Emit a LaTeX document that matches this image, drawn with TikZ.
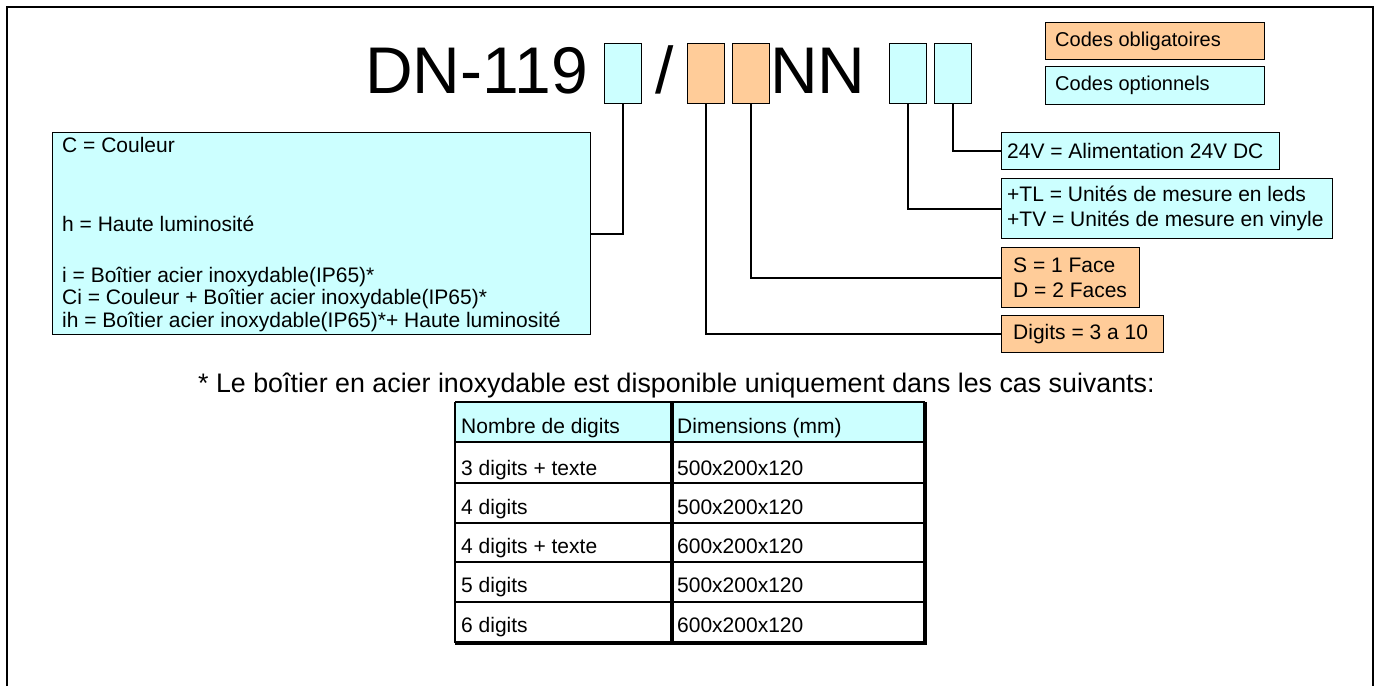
\documentclass[tikz,border=0pt]{standalone}
\usepackage{fontspec}
\setmainfont{Liberation Sans}
\definecolor{optc}{RGB}{204,255,255}
\definecolor{oblc}{RGB}{255,204,153}
\begin{document}
\begin{tikzpicture}[x=1pt,y=-1pt,
  box/.style={draw=black,line width=1.4pt,inner sep=0pt,rectangle},
  optbox/.style={box,fill=optc},
  oblbox/.style={box,fill=oblc},
  codebox/.style={minimum width=37pt,minimum height=60pt,anchor=north west},
  conn/.style={line width=2pt},
  txt/.style={inner sep=0pt,font=\fontsize{21}{25}\selectfont},
  titletxt/.style={inner sep=0pt,font=\fontsize{66}{70}\selectfont},
  tabtxt/.style={inner sep=0pt,anchor=base west,font=\fontsize{21}{25}\selectfont},
  tabline/.style={line width=2.5pt},
  tabouter/.style={line width=3.5pt}
]
\useasboundingbox (0,0) rectangle (1379,686);
% outer frame
\draw[line width=2pt] (7,686) -- (7,7) -- (1373,7) -- (1373,686);

% title
\node[titletxt,anchor=base east] (dn) at (588,93) {DN-119};
\node[titletxt,anchor=base west] (slash) at (655,93) {/};
\node[titletxt,anchor=base west] (nn) at (770,93) {NN};

% code boxes
\node[optbox,codebox] (c1) at (604,43) {};
\node[oblbox,codebox] (o1) at (687,43) {};
\node[oblbox,codebox] (o2) at (732,43) {};
\node[optbox,codebox] (c3) at (889,43) {};
\node[optbox,codebox] (c4) at (934,43) {};

% legend
\node[oblbox,anchor=north west,minimum width=219pt,minimum height=37pt] (lob) at (1045,22) {};
\node[txt,font=\fontsize{20}{24}\selectfont,anchor=west] (lobt) at ([xshift=10pt]lob.west) {Codes obligatoires};
\node[optbox,anchor=north west,minimum width=219pt,minimum height=38pt] (lop) at (1045,66) {};
\node[txt,font=\fontsize{20}{24}\selectfont,anchor=west] (lopt) at ([xshift=10pt]lop.west) {Codes optionnels};

% left big box
\node[optbox,anchor=north west,minimum width=538.5pt,minimum height=202pt] (big) at (51.5,132) {};
\node[txt,anchor=base west] (l1) at (62,152) {C = Couleur};
\node[txt,anchor=base west] (l2) at (62,231) {h = Haute luminosité};
\node[txt,anchor=base west] (l3) at (62,282) {i = Boîtier acier inoxydable(IP65)*};
\node[txt,anchor=base west] (l4) at (62,304.5) {Ci = Couleur + Boîtier acier inoxydable(IP65)*};
\node[txt,anchor=base west] (l5) at (62,327) {ih = Boîtier acier inoxydable(IP65)*+ Haute luminosité};

% right boxes
\node[optbox,anchor=north west,minimum width=278pt,minimum height=37pt] (r24) at (1001,132) {};
\node[txt,anchor=west] (r24t) at ([xshift=6pt]r24.west) {24V = Alimentation 24V DC};
\node[optbox,anchor=north west,minimum width=331pt,minimum height=60pt] (rtl) at (1001,178) {};
\node[txt,anchor=west,align=left] (rtlt) at ([xshift=6pt]rtl.west) {+TL = Unités de mesure en leds\\+TV = Unités de mesure en vinyle};
\node[oblbox,anchor=north west,minimum width=138pt,minimum height=60pt] (rsd) at (1001,247) {};
\node[txt,anchor=west,align=left] (rsdt) at ([xshift=12pt]rsd.west) {S = 1 Face\\D = 2 Faces};
\node[oblbox,anchor=north west,minimum width=162pt,minimum height=37pt] (rdg) at (1001,315) {};
\node[txt,anchor=west] (rdgt) at ([xshift=12pt]rdg.west) {Digits = 3 a 10};

% connectors
\draw[conn] (c1.south) |- (big.east);
\draw[conn] (o1.south) |- (rdg.west);
\draw[conn] (o2.south) |- (rsd.west);
\draw[conn] (c3.south) |- (rtl.west);
\draw[conn] (c4.south) |- (r24.west);

% footnote
\node[inner sep=0pt,anchor=base west,font=\fontsize{26.8}{30}\selectfont] (note) at (198,392) {* Le boîtier en acier inoxydable est disponible uniquement dans les cas suivants:};

% table
\fill[optc] (455,402) rectangle (925,442);
\foreach \yy in {402,442,483,523,562,602} {
  \draw[tabline] (455,\yy) -- (925,\yy);
}
\draw[tabline] (455,402) -- (455,643);
\draw[line width=3.5pt] (672,402) -- (672,643);
\draw[tabouter] (925,402) -- (925,643);
\draw[tabouter] (455,643) -- (926.75,643);

\node[tabtxt] (h1) at (461,433) {Nombre de digits};
\node[tabtxt] (h2) at (677,433) {Dimensions (mm)};
\node[tabtxt] (a1) at (461,475) {3 digits + texte};
\node[tabtxt] (b1) at (677,475) {500x200x120};
\node[tabtxt] (a2) at (461,514) {4 digits};
\node[tabtxt] (b2) at (677,514) {500x200x120};
\node[tabtxt] (a3) at (461,553) {4 digits + texte};
\node[tabtxt] (b3) at (677,553) {600x200x120};
\node[tabtxt] (a4) at (461,592) {5 digits};
\node[tabtxt] (b4) at (677,592) {500x200x120};
\node[tabtxt] (a5) at (461,632) {6 digits};
\node[tabtxt] (b5) at (677,632) {600x200x120};
\end{tikzpicture}
\end{document}
